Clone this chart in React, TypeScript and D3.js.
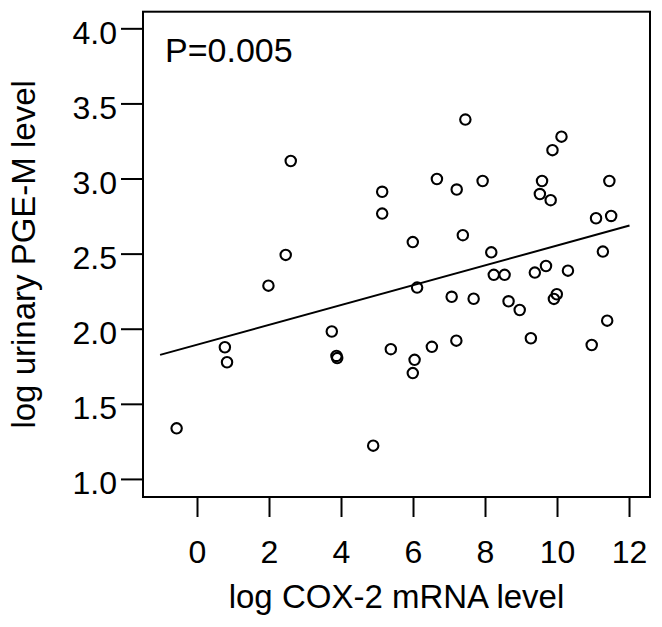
import { scaleLinear, line } from 'd3';

// log COX-2 mRNA level (x) vs log urinary PGE-M level (y)
const cox2 = [
  -0.58, 0.76, 0.82, 1.97, 2.45, 2.59, 3.73, 3.86, 3.88, 4.88,
  5.13, 5.13, 5.37, 5.98, 5.98, 6.03, 6.1, 6.51, 6.65, 7.06,
  7.19, 7.2, 7.37, 7.44, 7.67, 7.92, 8.16, 8.23, 8.53, 8.64,
  8.95, 9.26, 9.37, 9.51, 9.57, 9.68, 9.81, 9.86, 9.9, 9.98,
  10.11, 10.29, 10.95, 11.07, 11.26, 11.38, 11.44, 11.49,
];
const pgem = [
  1.34, 1.88, 1.78, 2.29, 2.495, 3.12, 1.985, 1.822, 1.808, 1.225,
  2.915, 2.77, 1.867, 2.58, 1.708, 1.796, 2.277, 1.883, 3.0, 2.216,
  1.924, 2.93, 2.626, 3.396, 2.203, 2.987, 2.512, 2.362, 2.362, 2.186,
  2.128, 1.94, 2.377, 2.9, 2.987, 2.421, 2.859, 3.192, 2.202, 2.233,
  3.282, 2.39, 1.895, 2.739, 2.517, 2.057, 2.987, 2.754,
];

// fitted line end points
const fitX = [-1.04, 12.0];
const fitY = [1.829, 2.69];

const xTicks = [0, 2, 4, 6, 8, 10, 12];
const yTicks = [1.0, 1.5, 2.0, 2.5, 3.0, 3.5, 4.0];
const xDomain = [-1.514, 12.569];
const yDomain = [0.883, 4.114];

const pLabel = 'P=0.005';
const xTitle = 'log COX-2 mRNA level';
const yTitle = 'log urinary PGE-M level';

export default function App() {
  const left = 143, right = 650, top = 11.7, bottom = 497;
  const x = scaleLinear().domain(xDomain).range([left, right]);
  const y = scaleLinear().domain(yDomain).range([bottom, top]);
  const font = '"Liberation Sans", Arial, Helvetica, sans-serif';

  const fit = line<number>()
    .x((d) => x(d))
    .y((_, i) => y(fitY[i]));

  return (
    <svg
      width={662}
      height={627}
      style={{ position: 'absolute', left: 0, top: 0, background: '#fff' }}
      fontFamily={font}
    >
      <rect x={0} y={0} width={662} height={627} fill="#fff" />

      {/* y axis ticks */}
      {yTicks.map((t) => (
        <g key={'y' + t}>
          <line x1={left - 22} x2={left} y1={y(t)} y2={y(t)} stroke="#000" strokeWidth={2} />
          <text x={left - 26} y={y(t) + 15} textAnchor="end" fontSize={32}>
            {t.toFixed(1)}
          </text>
        </g>
      ))}

      {/* x axis ticks */}
      {xTicks.map((t) => (
        <g key={'x' + t}>
          <line x1={x(t)} x2={x(t)} y1={bottom} y2={bottom + 20} stroke="#000" strokeWidth={2} />
          <text x={x(t)} y={563} textAnchor="middle" fontSize={32}>
            {t}
          </text>
        </g>
      ))}

      <rect
        x={left}
        y={top}
        width={right - left}
        height={bottom - top}
        fill="none"
        stroke="#000"
        strokeWidth={2}
      />

      <path d={fit(fitX) || ''} fill="none" stroke="#000" strokeWidth={2} />

      {cox2.map((v, i) => (
        <circle
          key={i}
          cx={x(v)}
          cy={y(pgem[i])}
          r={5.2}
          fill="none"
          stroke="#000"
          strokeWidth={2.1}
        />
      ))}

      <text x={165} y={61.7} fontSize={34}>
        {pLabel}
      </text>

      <text x={(left + right) / 2} y={608} textAnchor="middle" fontSize={33}>
        {xTitle}
      </text>
      <text
        transform={`translate(35,${(top + bottom) / 2}) rotate(-90)`}
        textAnchor="middle"
        fontSize={33}
      >
        {yTitle}
      </text>
    </svg>
  );
}
